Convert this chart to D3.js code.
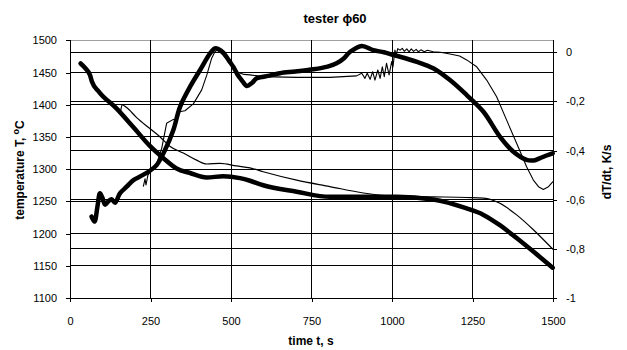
<!DOCTYPE html>
<html><head><meta charset="utf-8">
<script src="https://cdn.jsdelivr.net/npm/d3@7"></script>
<style>
html,body{margin:0;padding:0;background:#fff;}
svg text{font-family:"Liberation Sans",Arial,sans-serif;}
</style></head>
<body><svg id="c" width="627" height="350"></svg>
<script>
// ---- data ----
const xTicks = [0, 250, 500, 750, 1000, 1250, 1500];
const leftTicks = [1100, 1150, 1200, 1250, 1300, 1350, 1400, 1450, 1500];
const rightTicks = [-1, -0.8, -0.6, -0.4, -0.2, 0];
const rightTickLabels = ["-1", "-0,8", "-0,6", "-0,4", "-0,2", "0"];

// temperature, thick curve (time s, T °C)
const tempThickT = [33,47,62,68,90,145,197,248,290,331,373,424,476,528,559,600,704,807,911,1014,1128,1232,1284,1335,1387,1439,1499];
const tempThickV = [1464,1457,1446,1436,1420,1394,1365,1336,1317,1301,1294,1287,1289,1286,1282,1275,1265,1257,1257,1257,1253,1239,1229,1213,1193,1172,1147];

// temperature, thin curve
const tempThinT = [158,162,175,207,248,280,311,352,393,424,466,517,559,600,704,807,911,1014,1128,1232,1284,1335,1387,1439,1499];
const tempThinV = [1392,1400,1396,1380,1363,1350,1335,1325,1314,1308,1309,1305,1302,1296,1283,1273,1263,1258,1257,1256,1255,1247,1229,1206,1176];

// cooling rate, thick curve (time s, dT/dt K/s)
const rateThickT = [67,76,85,93,100,109,120,129,140,155,176,197,217,248,269,295,321,342,373,404,435,450,462,475,497,507,520,533,549,565,580,620,652,700,756,800,828,850,870,906,942,975,1004,1025,1080,1128,1180,1232,1284,1335,1377,1418,1440,1460,1480,1499];
const rateThickV = [-0.669,-0.689,-0.63,-0.574,-0.59,-0.62,-0.605,-0.598,-0.612,-0.574,-0.547,-0.52,-0.506,-0.482,-0.459,-0.398,-0.316,-0.221,-0.14,-0.072,-0.004,0.016,0.012,0.0,-0.04,-0.059,-0.09,-0.113,-0.137,-0.125,-0.106,-0.095,-0.085,-0.078,-0.069,-0.058,-0.045,-0.025,0.002,0.026,0.009,0.0,-0.011,-0.018,-0.04,-0.065,-0.113,-0.174,-0.242,-0.343,-0.405,-0.438,-0.44,-0.431,-0.42,-0.411];

// cooling rate, thin curve
const rateThinT = [228,233,236,242,250,270,285,300,321,331,340,357,383,409,425,440,450,458,475,497,517,540,559,600,704,807,890,906,916,923,932,940,947,956,963,970,976,983,991,999,1003,1009,1013,1018,1025,1032,1038,1046,1053,1060,1067,1075,1082,1090,1100,1110,1128,1150,1180,1210,1232,1263,1294,1325,1356,1387,1418,1439,1455,1470,1486,1499];
const rateThinV = [-0.545,-0.515,-0.54,-0.5,-0.485,-0.45,-0.39,-0.289,-0.273,-0.28,-0.242,-0.238,-0.21,-0.153,-0.092,-0.024,0.002,0.01,-0.01,-0.045,-0.079,-0.09,-0.092,-0.099,-0.102,-0.102,-0.096,-0.085,-0.106,-0.085,-0.11,-0.079,-0.113,-0.072,-0.106,-0.059,-0.099,-0.045,-0.092,-0.038,-0.06,0.009,-0.01,0.015,0.009,0.016,0.004,0.014,0.002,0.014,0.004,0.012,0.002,0.01,0.002,0.008,0.002,0.0,-0.007,-0.015,-0.031,-0.059,-0.113,-0.181,-0.276,-0.37,-0.466,-0.52,-0.547,-0.558,-0.547,-0.527];

// ---- drawing ----
const svg = d3.select("#c");
const L = 70, R = 553, T = 40.3, B = 298;
const x = d3.scaleLinear().domain([0, 1500]).range([L, R]);
const yL = d3.scaleLinear().domain([1100, 1500]).range([B, T]);
const yR = d3.scaleLinear().domain([-1, 0]).range([B, 52.3]);

const grid = svg.append("g").attr("shape-rendering", "crispEdges");
grid.selectAll("line.gl").data(leftTicks.filter(d => d > 1100)).enter().append("line")
  .attr("x1", L).attr("x2", R).attr("y1", d => yL(d)).attr("y2", d => yL(d))
  .attr("stroke", d => d === 1500 ? "#a0a0a0" : "#000").attr("stroke-width", 1);
grid.selectAll("line.gr").data(rightTicks.filter(d => d > -1)).enter().append("line")
  .attr("x1", L).attr("x2", R).attr("y1", d => yR(d)).attr("y2", d => yR(d))
  .attr("stroke", "#000").attr("stroke-width", 1);
grid.selectAll("line.gv").data(xTicks.filter(d => d > 0 && d < 1500)).enter().append("line")
  .attr("x1", d => x(d)).attr("x2", d => x(d)).attr("y1", T).attr("y2", B)
  .attr("stroke", "#000").attr("stroke-width", 1);

const fontSize = "11px";
const ax = svg.append("g").attr("transform", `translate(0,${B})`)
  .call(d3.axisBottom(x).tickValues(xTicks).tickSize(4).tickPadding(15).tickFormat(d3.format("d")));
const al = svg.append("g").attr("transform", `translate(${L},0)`)
  .call(d3.axisLeft(yL).tickValues(leftTicks).tickSize(4).tickPadding(9).tickFormat(d3.format("d")));
const ar = svg.append("g").attr("transform", `translate(${R},0)`)
  .call(d3.axisRight(yR).tickValues(rightTicks).tickSize(4).tickPadding(9).tickFormat((d, i) => rightTickLabels[i]));
ar.select(".domain").attr("d", `M4,${B}H0V${T}`);
[ax, al, ar].forEach(g => {
  g.selectAll("text").attr("font-size", fontSize).attr("fill", "#000").attr("font-family", '"Liberation Sans",Arial,sans-serif');
  g.selectAll("line,path").attr("stroke", "#000").attr("shape-rendering", "crispEdges");
});

const mk = (ts, vs) => ts.map((t, i) => [t, vs[i]]);
const lineL = d3.line().x(d => x(d[0])).y(d => yL(d[1])).curve(d3.curveMonotoneX);
const lineR = d3.line().x(d => x(d[0])).y(d => yR(d[1])).curve(d3.curveLinear);
const lineRs = d3.line().x(d => x(d[0])).y(d => yR(d[1])).curve(d3.curveCatmullRom.alpha(0.5));

const curves = svg.append("g").attr("fill", "none").attr("stroke", "#000")
  .attr("stroke-linejoin", "round").attr("stroke-linecap", "round");
curves.append("path").attr("d", lineL(mk(tempThinT, tempThinV))).attr("stroke-width", 1.2);
curves.append("path").attr("d", lineR(mk(rateThinT, rateThinV))).attr("stroke-width", 1.1);
curves.append("path").attr("d", lineL(mk(tempThickT, tempThickV))).attr("stroke-width", 4.5);
curves.append("path").attr("d", lineRs(mk(rateThickT, rateThickV))).attr("stroke-width", 4.5);

svg.append("text").attr("x", 335).attr("y", 23).attr("text-anchor", "middle")
  .attr("font-size", "13px").attr("font-weight", "bold").text("tester  ϕ60");
svg.append("text").attr("x", 311).attr("y", 345).attr("text-anchor", "middle")
  .attr("font-size", "12px").attr("font-weight", "bold").text("time t, s");
const yl = svg.append("text").attr("transform", "translate(24,170) rotate(-90)").attr("text-anchor", "middle")
  .attr("font-size", "12px").attr("font-weight", "bold");
yl.append("tspan").text("temperature T,  ");
yl.append("tspan").attr("font-size", "9px").attr("dy", "-5").text("o");
yl.append("tspan").attr("dy", "5").text("C");
svg.append("text").attr("transform", "translate(611,172) rotate(-90)").attr("text-anchor", "middle")
  .attr("font-size", "12px").attr("font-weight", "bold").text("dT/dt, K/s");
</script></body></html>
